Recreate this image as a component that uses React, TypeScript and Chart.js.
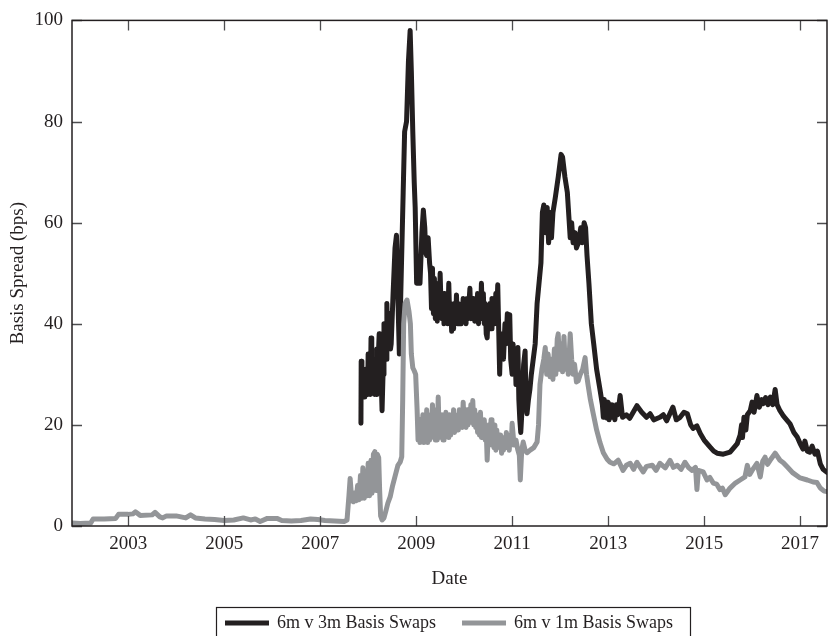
import React, { useEffect, useRef } from "react";
import { Chart, registerables } from "chart.js";

Chart.register(...registerables);

// ---------- data ----------
const seriesLabels = ["6m v 3m Basis Swaps", "6m v 1m Basis Swaps"];
const xTickYears = [2003, 2005, 2007, 2009, 2011, 2013, 2015, 2017];
const yTickValues = [0, 20, 40, 60, 80, 100];

// 6m v 3m (black)
const blackDates = [
  2007.85, 2007.855, 2007.87, 2007.885, 2007.9, 2007.915, 2007.93, 2007.945, 2007.96, 2007.975,
  2007.99, 2008.0, 2008.015, 2008.03, 2008.045, 2008.06, 2008.075, 2008.09, 2008.105, 2008.12,
  2008.135, 2008.15, 2008.165, 2008.18, 2008.195, 2008.21, 2008.23, 2008.245, 2008.26, 2008.29,
  2008.31, 2008.33, 2008.345, 2008.36, 2008.375, 2008.39, 2008.405, 2008.42, 2008.435, 2008.45,
  2008.465, 2008.48, 2008.52, 2008.56, 2008.59, 2008.62, 2008.65, 2008.69, 2008.73, 2008.76,
  2008.8, 2008.84, 2008.875, 2008.9, 2008.93, 2008.96, 2008.98, 2009.01, 2009.05, 2009.08,
  2009.12, 2009.15, 2009.18, 2009.2, 2009.22, 2009.25, 2009.28,
  2009.3, 2009.32, 2009.34, 2009.36, 2009.38, 2009.4, 2009.42, 2009.44, 2009.46, 2009.48,
  2009.5, 2009.52, 2009.54, 2009.56, 2009.58, 2009.6, 2009.62, 2009.64, 2009.66, 2009.68,
  2009.7, 2009.72, 2009.74, 2009.76, 2009.78, 2009.8, 2009.82, 2009.84, 2009.86, 2009.88,
  2009.9, 2009.92, 2009.94, 2009.96, 2009.98, 2010.0, 2010.02, 2010.04, 2010.06, 2010.08,
  2010.1, 2010.12, 2010.14, 2010.16, 2010.18, 2010.2, 2010.22, 2010.24, 2010.26, 2010.28,
  2010.3, 2010.32, 2010.34, 2010.36, 2010.38, 2010.4, 2010.42, 2010.44, 2010.46, 2010.48,
  2010.5, 2010.52, 2010.54, 2010.56, 2010.58, 2010.6, 2010.62, 2010.64, 2010.66, 2010.68,
  2010.7,
  2010.74, 2010.76, 2010.78, 2010.8, 2010.82, 2010.85, 2010.87, 2010.9, 2010.92, 2010.95,
  2010.97, 2011.0, 2011.02, 2011.04, 2011.06, 2011.08, 2011.1, 2011.12, 2011.14, 2011.16,
  2011.18, 2011.2, 2011.22, 2011.24, 2011.27, 2011.29, 2011.31, 2011.34, 2011.37, 2011.4,
  2011.44, 2011.48, 2011.52, 2011.56, 2011.6, 2011.63, 2011.66, 2011.7, 2011.73, 2011.76,
  2011.79, 2011.82, 2011.85, 2011.9, 2011.96, 2012.02, 2012.05, 2012.1, 2012.15, 2012.19,
  2012.21, 2012.24, 2012.27, 2012.31, 2012.34, 2012.38, 2012.43, 2012.46, 2012.5, 2012.53,
  2012.56, 2012.6, 2012.65, 2012.7, 2012.76, 2012.83, 2012.88, 2012.9, 2012.92, 2012.94,
  2012.96, 2012.98, 2013.0, 2013.02, 2013.04, 2013.06, 2013.08, 2013.1, 2013.12, 2013.14,
  2013.17, 2013.2, 2013.25, 2013.3, 2013.38, 2013.45, 2013.6, 2013.7, 2013.8, 2013.875,
  2013.95, 2014.08, 2014.15, 2014.22, 2014.3, 2014.35, 2014.42, 2014.5, 2014.58, 2014.65,
  2014.72, 2014.77, 2014.85, 2014.92, 2015.0, 2015.125, 2015.2, 2015.27, 2015.4, 2015.54,
  2015.62, 2015.69, 2015.75, 2015.78, 2015.8, 2015.83, 2015.87, 2015.9, 2015.96, 2016.0,
  2016.04, 2016.1, 2016.15, 2016.2, 2016.23, 2016.28, 2016.33, 2016.38, 2016.43, 2016.48,
  2016.52, 2016.58, 2016.65, 2016.72, 2016.79, 2016.87, 2016.94, 2017.0, 2017.06, 2017.1,
  2017.15, 2017.2, 2017.25, 2017.31, 2017.36, 2017.42, 2017.48, 2017.56,
];
const blackValues = [
  20.3, 32.6, 26, 31, 25.5, 30, 25.5, 31, 26, 30,
  26, 34, 27, 30, 26, 37.2, 27, 33, 26.5, 33,
  26, 31, 26, 35, 29, 33, 38, 30, 33, 22.8,
  30, 40, 33, 38, 33, 44, 37, 41, 36, 42,
  35, 36, 46, 55, 57.5, 45, 34, 50, 66, 78,
  80, 92, 98, 90, 78, 68, 63, 48, 50, 48,
  58, 62.5, 59, 54, 53.5, 57, 52,
  50, 43, 51, 42, 49, 41, 48, 40.5, 47, 42,
  50, 43, 41, 46, 40, 46, 41, 44, 40, 48,
  41, 44, 38.5, 43, 39, 44, 40, 45.7, 40, 44,
  40, 43, 40, 42, 45, 40.5, 44, 40, 45, 41,
  44, 47, 41, 45, 41, 45, 40.5, 44, 41, 46,
  40, 45, 41, 48, 42, 46, 40, 44, 38, 37.2,
  42, 39, 44, 39, 45, 40, 44, 40, 46, 42,
  47.7,
  30, 37, 33, 38, 33, 40, 36, 42, 38, 41.8,
  33, 30, 36, 31, 35, 28, 34, 35.3, 25, 21,
  18.5, 22, 28, 32, 34.6, 24, 22.2, 25, 27, 30,
  33, 36, 44, 48, 52, 62, 63.5, 58, 63, 56,
  62, 57, 62, 65, 69, 73.5, 73, 69, 66, 60,
  57, 60, 56, 58, 55, 56, 59, 56, 60, 59,
  53.5, 48, 40, 36, 31, 27, 24, 21.5, 25, 21.5,
  24.5, 21.3, 24.5, 21, 24, 21.5, 24, 21.5, 23.5, 21,
  24, 22, 25.8, 21.5, 22, 21.3, 23.8, 22.5, 21.5, 22.2,
  21, 21.5, 22, 20.8, 22.5, 23.5, 21, 21.5, 22.5, 22.2,
  20, 19.3, 19.8, 18.3, 17, 15.6, 14.8, 14.4, 14.2, 14.6,
  15.5, 16.3, 18, 20, 17.5, 21.5, 19, 22, 22.8, 24.5,
  22.5, 25.8, 23.5, 25, 24.2, 25.4, 24, 25.5, 24, 27,
  24, 22.8, 21.8, 21, 20.2, 18.5, 17.6, 16.3, 15.2, 16.8,
  14.8, 14.6, 15.8, 14.2, 14.8, 12.3, 11.2, 10.6,
];

// 6m v 1m (gray)
const grayDates = [
  2001.83, 2002.0, 2002.22, 2002.27, 2002.5, 2002.74, 2002.8, 2003.0, 2003.1, 2003.15,
  2003.25, 2003.5, 2003.56, 2003.66, 2003.72, 2003.8, 2004.0, 2004.2, 2004.3, 2004.4,
  2004.6, 2004.8, 2005.0, 2005.2, 2005.4, 2005.55, 2005.65, 2005.75, 2005.9, 2006.1,
  2006.2, 2006.4, 2006.6, 2006.8, 2006.95, 2007.1, 2007.3, 2007.5, 2007.56, 2007.6,
  2007.625, 2007.66, 2007.69, 2007.72, 2007.75, 2007.78, 2007.81, 2007.84, 2007.87, 2007.89,
  2007.92, 2007.95, 2007.98, 2008.0, 2008.03, 2008.06, 2008.08, 2008.11, 2008.14, 2008.17,
  2008.19, 2008.22, 2008.24, 2008.26, 2008.29, 2008.33, 2008.37, 2008.41, 2008.46, 2008.51,
  2008.56, 2008.62, 2008.67, 2008.7, 2008.72, 2008.74, 2008.77, 2008.81, 2008.85, 2008.88,
  2008.9, 2008.93, 2008.96, 2008.99,
  2009.02, 2009.04, 2009.06, 2009.08, 2009.1, 2009.12, 2009.14, 2009.16, 2009.18, 2009.2,
  2009.22, 2009.24, 2009.26, 2009.28, 2009.3, 2009.32, 2009.34, 2009.36, 2009.38, 2009.4,
  2009.42, 2009.44, 2009.46, 2009.48, 2009.5, 2009.52, 2009.54, 2009.56, 2009.58, 2009.6,
  2009.62, 2009.64, 2009.66, 2009.68, 2009.7, 2009.72, 2009.74, 2009.76, 2009.78, 2009.8,
  2009.82, 2009.84, 2009.86, 2009.88, 2009.9, 2009.92, 2009.94, 2009.96, 2009.98, 2010.0,
  2010.02, 2010.04, 2010.06, 2010.08, 2010.1, 2010.12, 2010.14, 2010.16, 2010.18, 2010.2,
  2010.22, 2010.24, 2010.26, 2010.28, 2010.3, 2010.32, 2010.34, 2010.36, 2010.38, 2010.4,
  2010.42, 2010.44, 2010.46, 2010.48, 2010.5, 2010.52, 2010.54, 2010.56, 2010.58, 2010.6,
  2010.62, 2010.64, 2010.66, 2010.68, 2010.7, 2010.72, 2010.74, 2010.76, 2010.78, 2010.8,
  2010.82, 2010.84, 2010.86, 2010.88, 2010.9, 2010.92, 2010.94, 2010.96, 2010.98, 2011.0,
  2011.04, 2011.08, 2011.12, 2011.15, 2011.17, 2011.2, 2011.23, 2011.27, 2011.31, 2011.375,
  2011.45, 2011.52, 2011.55, 2011.58, 2011.62, 2011.66, 2011.69, 2011.72, 2011.75, 2011.79,
  2011.82, 2011.85, 2011.88, 2011.91, 2011.94, 2011.96, 2011.99, 2012.02, 2012.05, 2012.08,
  2012.11, 2012.14, 2012.17, 2012.21, 2012.24, 2012.27, 2012.3, 2012.34, 2012.375, 2012.42,
  2012.47, 2012.52, 2012.55, 2012.58, 2012.63, 2012.69, 2012.76, 2012.83, 2012.9, 2012.98,
  2013.04, 2013.12, 2013.21, 2013.31, 2013.38, 2013.46, 2013.53, 2013.6, 2013.73, 2013.8,
  2013.92, 2014.0, 2014.08, 2014.19, 2014.29, 2014.36, 2014.44, 2014.52, 2014.6, 2014.68,
  2014.75, 2014.82, 2014.85, 2014.88, 2014.98, 2015.06, 2015.12, 2015.19, 2015.26, 2015.33,
  2015.38, 2015.44, 2015.54, 2015.65, 2015.75, 2015.85, 2015.9, 2015.95, 2016.0, 2016.1,
  2016.17, 2016.22, 2016.27, 2016.32, 2016.375, 2016.48, 2016.58, 2016.65, 2016.73, 2016.85,
  2017.0, 2017.15, 2017.27, 2017.35, 2017.42, 2017.5, 2017.56,
];
const grayValues = [
  0.6, 0.5, 0.6, 1.4, 1.4, 1.5, 2.3, 2.3, 2.4, 2.8,
  2.1, 2.2, 2.7, 1.8, 1.6, 2.0, 2.0, 1.6, 2.2, 1.6,
  1.4, 1.3, 1.1, 1.2, 1.6, 1.2, 1.4, 0.9, 1.5, 1.5,
  1.1, 1.0, 1.1, 1.4, 1.3, 1.1, 1.0, 0.9, 1.2, 6,
  9.4, 5, 4.8, 6.5, 5, 8, 5.2, 10, 5.5, 11.5,
  5.5, 10.5, 6, 12.4, 6, 13, 6.5, 14.2, 14.7, 7,
  14.2, 13.5, 7, 2, 1.2, 1.6, 3, 4.5, 5.8, 8,
  9.8, 12, 12.7, 13.7, 25, 40, 44, 44.7, 42.5, 40,
  34, 31.3, 30.7, 30,
  23, 17, 21, 16.5, 20, 17, 22, 16.5, 21, 17.5,
  23, 16.5, 22, 17, 21, 17.5, 24, 18, 22, 17,
  23, 17, 25.5, 18, 21, 17.5, 22, 17, 21, 17.5,
  22.5, 18, 21, 17.5, 22, 18, 21, 18.5, 23, 18.5,
  22, 19, 21.5, 19, 23, 19.5, 22, 19.5, 24.5, 20,
  23, 19.5, 23, 20, 22.5, 20.5, 24, 21, 24.8, 20,
  23, 19.5, 22, 18.5, 21.5, 18, 22.5, 17.5, 21, 17.5,
  21, 17, 19, 13, 18, 20, 16.5, 21, 16, 19.5,
  15.5, 20, 15, 19, 16, 18, 15.5, 18, 14.4, 17,
  15, 17.5, 15.5, 18.5, 15.5, 17, 15, 18, 16, 20.3,
  16, 17, 15, 14, 9.1, 15, 16.6, 15, 14.5, 15,
  15.5, 16.6, 20, 28, 31, 33, 35.3, 30, 34, 29.5,
  33, 29, 35, 30, 37, 38, 31, 36, 30.5, 37.5,
  31, 34, 30, 38, 33, 30, 32, 28.5, 28.7, 30,
  31, 33.3, 30, 28, 25, 22.2, 19, 16.5, 14.5, 13.2,
  12.6, 12.3, 13, 11, 12, 12.4, 11.2, 12.6, 10.7, 11.8,
  12, 11, 12.4, 11.5, 13, 11.6, 12, 11.2, 12.6, 11.5,
  11, 11.6, 7.2, 11, 10.7, 9.1, 9.6, 8.5, 8.3, 7.2,
  7.5, 6.2, 7.5, 8.5, 9.1, 9.7, 12, 10.2, 11, 12.4,
  9.7, 12.8, 13.6, 12.2, 13, 14.4, 13, 12.5, 11.7, 10.5,
  9.5, 9.1, 8.7, 8.6, 7.5, 6.9, 6.8,
];

// ---------- styling ----------
const FONT = "'Liberation Serif', 'Times New Roman', serif";
const TEXT_COLOR = "#231f20";
const BLACK = "#231f20";
const GRAY = "#939598";

const framePlugin = {
  id: "frameTicksLegend",
  afterDraw(chart: any) {
    const { ctx, chartArea, scales } = chart;
    const { left, right, top, bottom } = chartArea;
    ctx.save();
    // inward ticks on all four sides
    ctx.strokeStyle = "#4d4d4f";
    ctx.lineWidth = 1.3;
    const tl = 10;
    ctx.beginPath();
    scales.x.ticks.forEach((t: any) => {
      const px = Math.round(scales.x.getPixelForValue(t.value)) + 0.5;
      ctx.moveTo(px, bottom);
      ctx.lineTo(px, bottom - tl);
      ctx.moveTo(px, top);
      ctx.lineTo(px, top + tl);
    });
    scales.y.ticks.forEach((t: any) => {
      const py = Math.round(scales.y.getPixelForValue(t.value)) + 0.5;
      ctx.moveTo(left, py);
      ctx.lineTo(left + tl, py);
      ctx.moveTo(right, py);
      ctx.lineTo(right - tl, py);
    });
    ctx.stroke();
    // frame
    ctx.strokeStyle = "#231f20";
    ctx.lineWidth = 1.5;
    ctx.strokeRect(left, top, right - left, bottom - top);

    // legend
    const boxLeft = 216.5;
    const boxTop = 607.5;
    const boxRight = 690.5;
    const midY = 623;
    ctx.lineWidth = 1.2;
    ctx.strokeStyle = "#231f20";
    ctx.strokeRect(boxLeft, boxTop, boxRight - boxLeft, 40);
    ctx.font = `18px ${FONT}`;
    ctx.textBaseline = "middle";
    ctx.fillStyle = TEXT_COLOR;
    let x = 225;
    chart.data.datasets.forEach((ds: any) => {
      ctx.strokeStyle = ds.borderColor;
      ctx.lineWidth = 5;
      ctx.beginPath();
      ctx.moveTo(x, midY);
      ctx.lineTo(x + 44, midY);
      ctx.stroke();
      ctx.fillText(ds.label, x + 52, midY);
      x += 52 + ctx.measureText(ds.label).width + 26;
    });
    ctx.restore();
  },
};

export default function App() {
  const canvasRef = useRef<HTMLCanvasElement | null>(null);

  useEffect(() => {
    const canvas = canvasRef.current;
    if (!canvas) return;
    const blackData = blackDates.map((d, i) => ({ x: d, y: blackValues[i] }));
    const grayData = grayDates.map((d, i) => ({ x: d, y: grayValues[i] }));
    const chart = new Chart(canvas, {
      type: "line",
      data: {
        datasets: [
          {
            label: seriesLabels[0],
            data: blackData,
            borderColor: BLACK,
            backgroundColor: BLACK,
            borderWidth: 5,
            pointRadius: 0,
            tension: 0,
            borderJoinStyle: "round",
            borderCapStyle: "round",
            order: 1,
          },
          {
            label: seriesLabels[1],
            data: grayData,
            borderColor: GRAY,
            backgroundColor: GRAY,
            borderWidth: 5,
            pointRadius: 0,
            tension: 0,
            borderJoinStyle: "round",
            borderCapStyle: "round",
            order: 0,
          },
        ],
      },
      options: {
        animation: false,
        responsive: true,
        maintainAspectRatio: false,
        layout: { padding: { top: 16, right: 1, bottom: 0, left: 0 } },
        plugins: {
          legend: { display: false },
          tooltip: { enabled: false },
        },
        scales: {
          x: {
            type: "linear",
            min: 2001.83,
            max: 2017.56,
            afterFit: (scale: any) => {
              scale.height = 110;
            },
            afterBuildTicks: (scale: any) => {
              scale.ticks = xTickYears.map((v) => ({ value: v }));
            },
            grid: { display: false, drawTicks: false },
            border: { display: false },
            ticks: {
              padding: 7,
              maxRotation: 0,
              autoSkip: false,
              color: TEXT_COLOR,
              font: { family: FONT, size: 19 },
              callback: (v: any) => String(v),
            },
            title: {
              display: true,
              text: "Date",
              color: TEXT_COLOR,
              font: { family: FONT, size: 19 },
              padding: { top: 0, bottom: 46 },
            },
          },
          y: {
            type: "linear",
            min: 0,
            max: 100,
            afterFit: (scale: any) => {
              scale.width = 72;
            },
            afterBuildTicks: (scale: any) => {
              scale.ticks = yTickValues.map((v) => ({ value: v }));
            },
            grid: { display: false, drawTicks: false },
            border: { display: false },
            ticks: {
              padding: 9,
              color: TEXT_COLOR,
              font: { family: FONT, size: 19 },
              callback: (v: any) => String(v),
            },
            title: {
              display: true,
              text: "Basis Spread (bps)",
              color: TEXT_COLOR,
              font: { family: FONT, size: 19 },
              padding: { top: 7, bottom: 0 },
            },
          },
        },
      },
      plugins: [framePlugin],
    });
    return () => chart.destroy();
  }, []);

  return (
    <div style={{ position: "absolute", left: 0, top: 0, width: 828, height: 636, background: "#fff" }}>
      <canvas ref={canvasRef} />
    </div>
  );
}
